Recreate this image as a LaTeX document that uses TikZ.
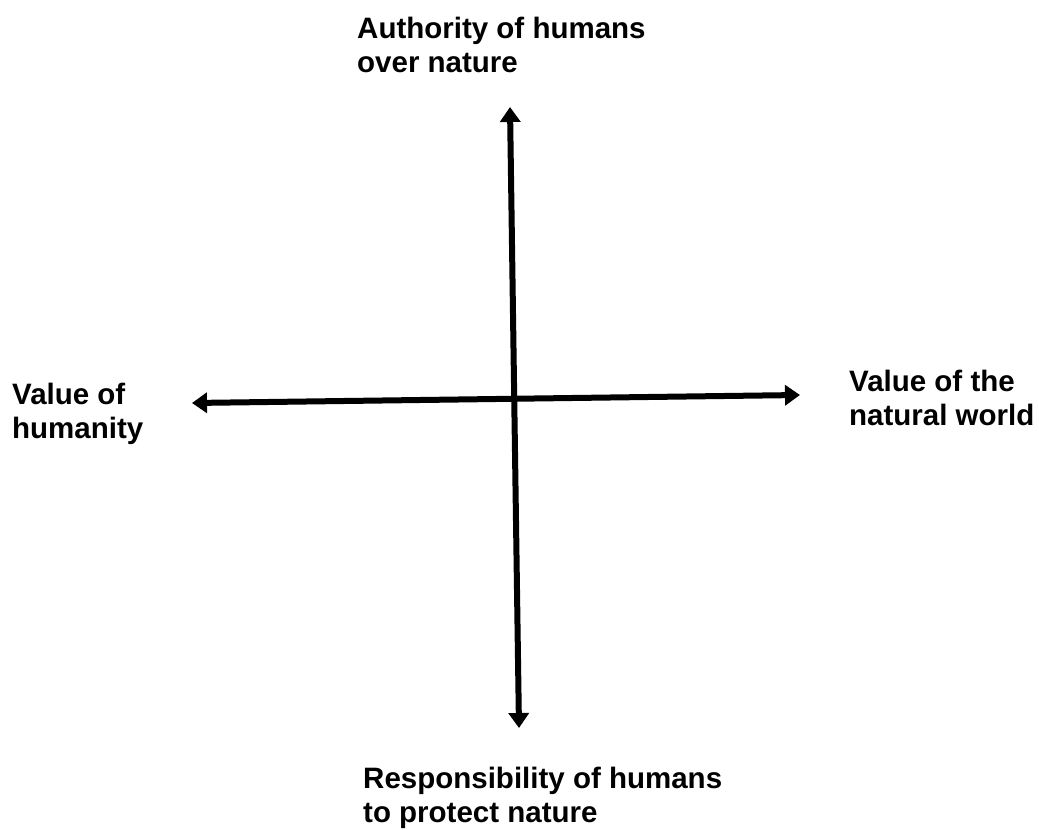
\documentclass[tikz,border=0pt]{standalone}
\usepackage{fontspec}
\setmainfont{Liberation Sans}
\usetikzlibrary{arrows.meta}

\tikzset{
  axis/.style={line width=6pt, {Triangle[width=20pt,length=15pt]}-{Triangle[width=20pt,length=15pt]}},
  pole/.style={anchor=north west, inner sep=0pt, align=left,
    font=\fontsize{29.5}{34}\selectfont\bfseries},
}

\begin{document}
\begin{tikzpicture}[x=1pt, y=-1pt]
  \useasboundingbox (0,0) rectangle (1039,830);

  % Axis ends
  \coordinate (up) at (510,107);
  \coordinate (down) at (519,728);
  \coordinate (left) at (192,403);
  \coordinate (right) at (800,395);

  % Labels at the four ends
  \node[pole] (authority) at (357,17) {Authority of humans\\over nature};
  \node[pole] (responsibility) at (363,767) {Responsibility of humans\\to protect nature};
  \node[pole] (humanity) at (12,383) {Value of\\humanity};
  \node[pole] (natural) at (849,370) {Value of the\\natural world};

  \draw[axis] (up) -- (down);
  \draw[axis] (left) -- (right);
\end{tikzpicture}
\end{document}
